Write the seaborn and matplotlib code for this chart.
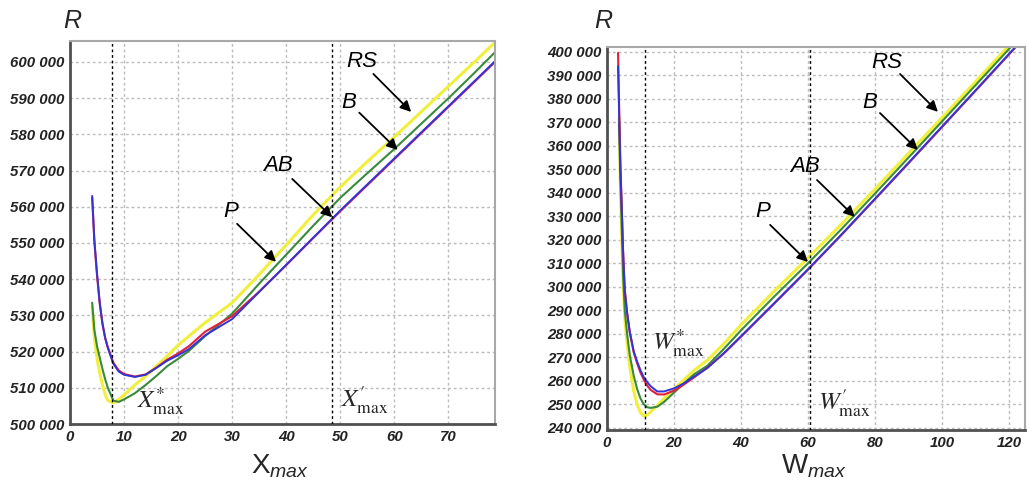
import matplotlib
matplotlib.use("Agg")
import matplotlib.pyplot as plt
import seaborn as sns
import pandas as pd
from matplotlib.ticker import FuncFormatter

# ---------------- data: left panel (X_max) ----------------
x_left = [4.1, 4.5, 5.0, 5.5, 6.0, 6.5, 7.0, 8.0, 9.0, 10.0, 12.0, 14.0, 16.0, 18.0, 20.0,
          22.0, 25.0, 30.0, 35.0, 40.0, 45.0, 50.0, 55.0, 60.0, 65.0, 70.0, 75.0, 79.0]
left_blue = [563000, 551000, 541500, 533500, 527800, 523800, 521000, 516700, 514500, 513600, 513000,
             513600, 515500, 517500, 519000, 520700, 524500, 529000, 536500, 544000, 551500,
             559000, 566200, 573400, 580600, 587800, 595000, 600800]
left_red = [562500, 550500, 541000, 533300, 527700, 523800, 521200, 517000, 514800, 513800, 513100,
            513700, 515600, 517800, 519500, 521500, 525500, 529800, 536600, 543900, 551400,
            558800, 566000, 573200, 580400, 587600, 594800, 600600]
left_green = [533500, 526000, 521500, 518300, 515200, 512400, 510000, 506500, 506100, 506800, 508500,
              510800, 513300, 516000, 518000, 520200, 524300, 530500, 538800, 546800, 554800,
              562500, 569300, 576000, 583000, 590000, 597300, 603300]
left_yellow = [532500, 524000, 518000, 514000, 510800, 508200, 506500, 505800, 506800, 508000, 510800,
               513200, 516000, 518800, 521800, 524300, 528000, 533500, 541300, 549500, 557800,
               565500, 572500, 579300, 586300, 593300, 600300, 606000]
left_xticks = [0, 10, 20, 30, 40, 50, 60, 70]
left_yticks = [500000, 510000, 520000, 530000, 540000, 550000, 560000, 570000, 580000, 590000, 600000]
left_marks = [7.8, 48.5]

# ---------------- data: right panel (W_max) ----------------
x_right = [3.3, 3.6, 4.0, 4.4, 4.8, 5.3, 6.0, 6.8, 8.0, 9.0, 10.0, 11.0, 12.0, 13.0, 15.0,
           17.0, 20.0, 23.0, 26.0, 30.0, 35.0, 40.0, 50.0, 60.0, 70.0, 80.0, 90.0, 100.0, 110.0, 122.0]
right_blue = [394000, 375000, 350000, 334000, 315000, 298500, 289000, 281000, 272500, 268200,
              264500, 261500, 259500, 257800, 255500, 255500, 256800, 259000, 261800, 265500,
              272000, 279000, 293200, 307500, 322300, 337500, 352800, 368200, 383600, 402200]
right_red = [399600, 378000, 352000, 334500, 315500, 299000, 289000, 280500, 272000, 267500,
             263500, 260500, 258000, 256200, 254300, 254200, 255800, 258500, 261500, 265700,
             271800, 278800, 293000, 307300, 322100, 337300, 352600, 368000, 383400, 402000]
right_green = [None, 370000, 345000, 325000, 305000, 290000, 280000, 271000, 262000, 256500,
               252500, 250000, 248800, 248500, 249000, 251000, 255000, 259000, 262800, 266500,
               273800, 281500, 296000, 310000, 324600, 339700, 355000, 370400, 385800, 404300]
right_yellow = [None, 372000, 343000, 322000, 302000, 287000, 276000, 266000, 255500, 250000,
                246500, 245000, 245500, 246800, 249500, 252500, 256500, 260500, 264500, 268800,
                276000, 283800, 298300, 312300, 326700, 341600, 356800, 372000, 387300, 405800]
right_xticks = [0, 20, 40, 60, 80, 100, 120]
right_yticks = list(range(240000, 400001, 10000))
right_marks = [11.3, 60.6]

# ---------------- style ----------------
sns.set_style("white")
plt.rcParams['font.family'] = ['Liberation Sans', 'DejaVu Sans']
plt.rcParams['mathtext.fontset'] = 'custom'
plt.rcParams['mathtext.rm'] = 'Liberation Sans'
plt.rcParams['mathtext.it'] = 'Liberation Sans:italic'

C_YELLOW = '#f0f03c'
C_GREEN = '#3a8a3a'
C_RED = '#e0203c'
C_BLUE = '#3434d4'
TXT = '#222222'

fig = plt.figure(figsize=(10.27, 4.8), dpi=100)
axL = fig.add_axes([70 / 1027, 1 - 424 / 480, 425 / 1027, 383 / 480])
axR = fig.add_axes([607 / 1027, 1 - 430 / 480, 418 / 1027, 383 / 480])

fmt = FuncFormatter(lambda v, p: f"{int(v):,}".replace(",", " "))


def draw(ax, xs, series, marks, xticks, yticks, xlim, ylim):
    for ys, col, lw in series:
        df = pd.DataFrame({"x": xs, "y": ys}).dropna()
        sns.lineplot(data=df, x="x", y="y", ax=ax, color=col, lw=lw, sort=False,
                     estimator=None, legend=False)
    for m in marks:
        ax.axvline(m, color='black', lw=1.0, ls=(0, (2, 2)), zorder=5)
    ax.set_xlim(*xlim)
    ax.set_ylim(*ylim)
    ax.set_xticks(xticks)
    ax.set_yticks(yticks)
    ax.yaxis.set_major_formatter(fmt)
    ax.grid(True, color='#bcbcbc', ls=(0, (2, 2)), lw=1.0)
    ax.set_axisbelow(True)
    ax.set_xlabel("")
    ax.set_ylabel("")
    for s in ['left', 'bottom']:
        ax.spines[s].set_color('#505050')
        ax.spines[s].set_linewidth(2.0)
    for s in ['top', 'right']:
        ax.spines[s].set_color('#a8a8a8')
        ax.spines[s].set_linewidth(1.5)
    ax.tick_params(length=0, pad=4, labelcolor=TXT)
    for lab in ax.get_xticklabels() + ax.get_yticklabels():
        lab.set_fontsize(10.8)
        lab.set_fontweight('bold')
        lab.set_fontstyle('italic')


draw(axL, x_left,
     [(left_yellow, C_YELLOW, 2.2), (left_green, C_GREEN, 1.5), (left_red, C_RED, 1.5), (left_blue, C_BLUE, 1.4)],
     left_marks, left_xticks, left_yticks, (0, 78.6), (500000, 605800))
draw(axR, x_right,
     [(right_yellow, C_YELLOW, 2.2), (right_green, C_GREEN, 1.5), (right_red, C_RED, 1.5), (right_blue, C_BLUE, 1.4)],
     right_marks, right_xticks, right_yticks, (0, 124.8), (239100, 402100))

arrow = dict(arrowstyle='-|>', color='black', lw=1.3, mutation_scale=16, shrinkA=0, shrinkB=0)


def label(ax, txt, tpos, tail, tip):
    ax.text(*tpos, txt, fontsize=16, style='italic', ha='center', va='center', color='black')
    ax.annotate('', xy=tip, xytext=tail, arrowprops=arrow)


label(axL, 'RS', (53.9, 600000), (56.1, 596700), (63.1, 586200))
label(axL, 'B', (51.5, 588900), (53.5, 586000), (60.6, 575700))
label(axL, 'AB', (38.5, 571300), (41.1, 567700), (48.5, 557100))
label(axL, 'P', (29.8, 558600), (30.9, 555300), (38.1, 544800))

label(axR, 'RS', (83.6, 395700), (87.5, 390600), (98.8, 374500))
label(axR, 'B', (78.5, 378300), (81.5, 374000), (92.8, 358300))
label(axR, 'AB', (59.1, 351100), (62.7, 345500), (74.0, 329800))
label(axR, 'P', (46.6, 331900), (48.7, 326400), (60.0, 310600))

axL.text(12.4, 506300, r"$X^{*}_{\mathrm{max}}$", fontsize=18, math_fontfamily='stix',
         ha='left', va='center', zorder=6)
axL.text(50.2, 506500, r"$X^{\prime}_{\mathrm{max}}$", fontsize=18, math_fontfamily='stix',
         ha='left', va='center', zorder=6)
axR.text(13.4, 276200, r"$W^{*}_{\mathrm{max}}$", fontsize=18, math_fontfamily='stix',
         ha='left', va='center', zorder=6)
axR.text(63.0, 250600, r"$W^{\prime}_{\mathrm{max}}$", fontsize=18, math_fontfamily='stix',
         ha='left', va='center', zorder=6)

fig.text(72 / 1027, 1 - 21 / 480, 'R', fontsize=18, style='italic', ha='center', va='center')
fig.text(603 / 1027, 1 - 21 / 480, 'R', fontsize=18, style='italic', ha='center', va='center')
fig.text(280 / 1027, 1 - 466 / 480, r"$\mathrm{X}_{max}$", fontsize=20, ha='center', va='center')
fig.text(814 / 1027, 1 - 466 / 480, r"$\mathrm{W}_{max}$", fontsize=20, ha='center', va='center')

fig.savefig("out.png", dpi=100)
